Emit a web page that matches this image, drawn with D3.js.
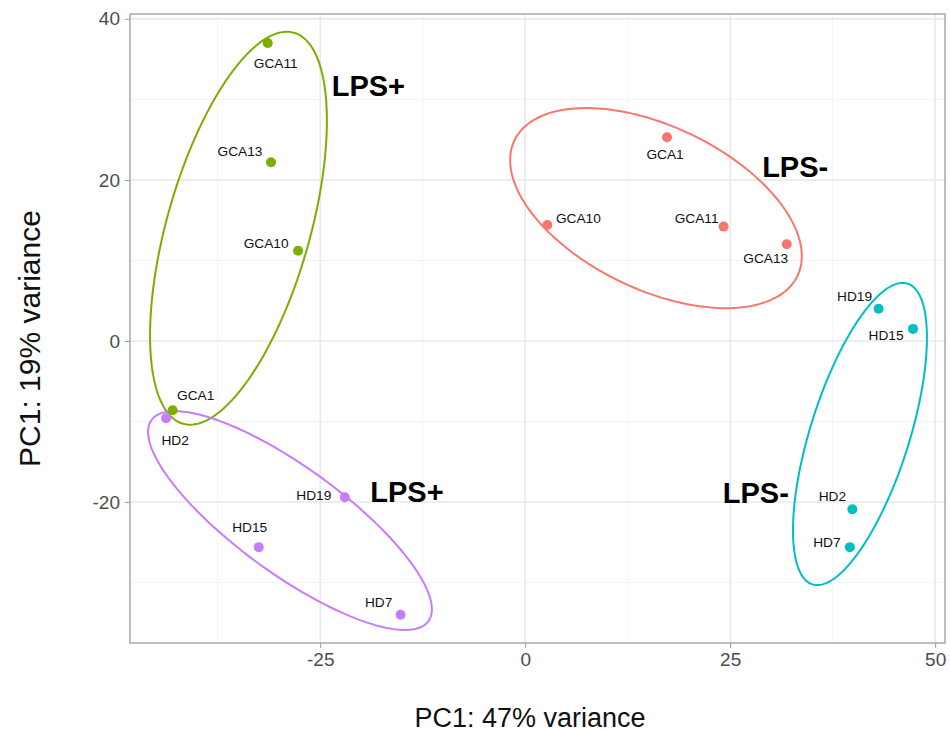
<!DOCTYPE html>
<html>
<head>
<meta charset="utf-8">
<script src="https://cdn.jsdelivr.net/npm/d3@7"></script>
<style>
  body { margin: 0; background: #fff; }
  text { font-family: "Liberation Sans", Arial, Helvetica, sans-serif; }
</style>
</head>
<body>
<div id="chart"></div>
<script>
// groups and colours (ggplot default hue palette)
const groups = ["LPS- GCA", "LPS+ GCA", "LPS- HD", "LPS+ HD"];
const groupColors = ["#F8766D", "#7CAE00", "#00BFC4", "#C77CFF"];

// samples
const pointGroups = [
  "LPS- GCA", "LPS- GCA", "LPS- GCA", "LPS- GCA",
  "LPS+ GCA", "LPS+ GCA", "LPS+ GCA", "LPS+ GCA",
  "LPS- HD", "LPS- HD", "LPS- HD", "LPS- HD",
  "LPS+ HD", "LPS+ HD", "LPS+ HD", "LPS+ HD"
];
const pointLabels = [
  "GCA1", "GCA10", "GCA11", "GCA13",
  "GCA11", "GCA13", "GCA10", "GCA1",
  "HD19", "HD15", "HD2", "HD7",
  "HD2", "HD19", "HD15", "HD7"
];
const pc1 = [17.3, 2.7, 24.2, 31.9, -31.4, -31.0, -27.7, -43.0, 43.1, 47.3, 39.9, 39.6, -43.8, -22.0, -32.5, -15.2];
const pc2 = [25.3, 14.4, 14.2, 12.0, 37.0, 22.2, 11.2, -8.6, 4.0, 1.5, -20.9, -25.6, -9.6, -19.4, -25.6, -34.0];

// confidence ellipses (data units): centre, semi axes, angle in degrees
const ellipseGroups = ["LPS- GCA", "LPS+ GCA", "LPS- HD", "LPS+ HD"];
const ellipseCx = [15.95, -34.97, 40.83, -28.69];
const ellipseCy = [16.5, 14.0, -11.55, -22.3];
const ellipseMajor = [19.2, 25.2, 19.55, 21.0];
const ellipseMinor = [10.1, 8.74, 6.04, 6.56];
const ellipseAngle = [-26.3, 74.5, 72.8, -36.6];

// big annotations
const annoText = ["LPS+", "LPS-", "LPS+", "LPS-"];
const annoX = [-23.6, 28.9, -18.9, 24.1];
const annoY = [30.4, 20.4, -20.0, -20.1];

// axis ticks
const xTicks = [-25, 0, 25, 50];
const yTicks = [-20, 0, 20, 40];
const xMinor = [-37.5, -12.5, 12.5, 37.5];
const yMinor = [-30, -10, 10, 30];

// label offsets in pixels (dx, dy) for each sample
const labelOffsets = [
  [-2, 22], [31, -2], [-27, -4], [-21, 19],
  [8, 25], [-31, -6], [-32, -3], [23, -10],
  [-24, -8], [-27, 11], [-20, -8], [-23, 0],
  [9, 27], [-31, 3], [-9, -15], [-22, -8]
];

const W = 950, H = 733;
const panel = { left: 130, right: 945, top: 14, bottom: 643 };

const svg = d3.select("#chart").append("svg")
  .attr("width", W).attr("height", H);

const x = d3.scaleLinear().domain([-48.2, 51.2]).range([panel.left, panel.right]);
const y = d3.scaleLinear().domain([-37.5, 40.6]).range([panel.bottom, panel.top]);
const color = d3.scaleOrdinal().domain(groups).range(groupColors);

// grid
const grid = svg.append("g");
grid.selectAll(".xminor").data(xMinor).enter().append("line")
  .attr("x1", d => x(d)).attr("x2", d => x(d))
  .attr("y1", panel.top).attr("y2", panel.bottom)
  .attr("stroke", "#f3f3f3").attr("stroke-width", 1);
grid.selectAll(".yminor").data(yMinor).enter().append("line")
  .attr("y1", d => y(d)).attr("y2", d => y(d))
  .attr("x1", panel.left).attr("x2", panel.right)
  .attr("stroke", "#f3f3f3").attr("stroke-width", 1);
grid.selectAll(".xmajor").data(xTicks).enter().append("line")
  .attr("x1", d => x(d)).attr("x2", d => x(d))
  .attr("y1", panel.top).attr("y2", panel.bottom)
  .attr("stroke", "#e8e8e8").attr("stroke-width", 1.5);
grid.selectAll(".ymajor").data(yTicks).enter().append("line")
  .attr("y1", d => y(d)).attr("y2", d => y(d))
  .attr("x1", panel.left).attr("x2", panel.right)
  .attr("stroke", "#e8e8e8").attr("stroke-width", 1.5);

// axes (plain hyphen for negatives, like the original)
const fmt = d => String(d);
const xAxis = svg.append("g")
  .attr("transform", `translate(0,${panel.bottom})`)
  .call(d3.axisBottom(x).tickValues(xTicks).tickFormat(fmt).tickSize(5).tickPadding(5));
const yAxis = svg.append("g")
  .attr("transform", `translate(${panel.left},0)`)
  .call(d3.axisLeft(y).tickValues(yTicks).tickFormat(fmt).tickSize(5).tickPadding(5));
[xAxis, yAxis].forEach(a => {
  a.select(".domain").remove();
  a.selectAll(".tick line").attr("stroke", "#999");
  a.selectAll(".tick text").attr("fill", "#4d4d4d")
    .style("font-size", "19px")
    .style("font-family", "'Liberation Sans', Arial, sans-serif");
});

// panel border
svg.append("rect")
  .attr("x", panel.left).attr("y", panel.top)
  .attr("width", panel.right - panel.left).attr("height", panel.bottom - panel.top)
  .attr("fill", "none").attr("stroke", "#a8a8a8").attr("stroke-width", 1.5);

// ellipses
const line = d3.line().x(d => x(d[0])).y(d => y(d[1])).curve(d3.curveLinearClosed);
const ellipses = ellipseGroups.map((g, i) => {
  const a = ellipseAngle[i] * Math.PI / 180;
  const pts = d3.range(0, 2 * Math.PI, Math.PI / 90).map(t => {
    const u = ellipseMajor[i] * Math.cos(t), v = ellipseMinor[i] * Math.sin(t);
    return [ellipseCx[i] + u * Math.cos(a) - v * Math.sin(a),
            ellipseCy[i] + u * Math.sin(a) + v * Math.cos(a)];
  });
  return { group: g, pts };
});
svg.append("g").selectAll("path").data(ellipses).enter().append("path")
  .attr("d", d => line(d.pts))
  .attr("fill", "none")
  .attr("stroke", d => color(d.group))
  .attr("stroke-width", 2);

// points
const pts = pc1.map((v, i) => ({ x: v, y: pc2[i], group: pointGroups[i], label: pointLabels[i], off: labelOffsets[i] }));
svg.append("g").selectAll("circle").data(pts).enter().append("circle")
  .attr("cx", d => x(d.x)).attr("cy", d => y(d.y))
  .attr("r", 5)
  .attr("fill", d => color(d.group));

// sample labels
svg.append("g").selectAll("text").data(pts).enter().append("text")
  .attr("x", d => x(d.x) + d.off[0])
  .attr("y", d => y(d.y) + d.off[1])
  .attr("text-anchor", "middle")
  .style("font-size", "13.7px")
  .attr("fill", "#111")
  .text(d => d.label);

// LPS annotations
svg.append("g").selectAll("text").data(annoText).enter().append("text")
  .attr("x", (d, i) => x(annoX[i]))
  .attr("y", (d, i) => y(annoY[i]))
  .style("font-size", "29px")
  .style("font-weight", "bold")
  .attr("fill", "#000")
  .text(d => d);

// axis titles
svg.append("text")
  .attr("x", 530).attr("y", 727)
  .attr("text-anchor", "middle")
  .style("font-size", "27px")
  .attr("fill", "#111")
  .text("PC1: 47% variance");

svg.append("text")
  .attr("transform", `translate(40,${(panel.top + panel.bottom) / 2 + 10}) rotate(-90)`)
  .attr("text-anchor", "middle")
  .style("font-size", "30px")
  .attr("fill", "#111")
  .text("PC1: 19% variance");
</script>
</body>
</html>
